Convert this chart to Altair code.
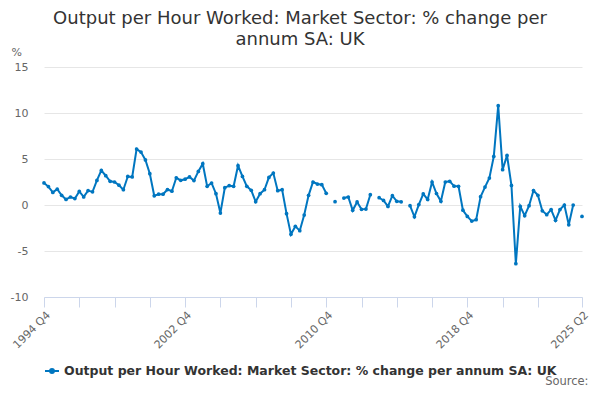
import json
import altair as alt
import pandas as pd

start_year = 1994
start_q = 4
values = [
    2.4, 2.0, 1.37, 1.72, 1.05, 0.6, 0.87, 0.7, 1.48, 0.88,
    1.57, 1.43, 2.67, 3.76, 3.18, 2.57, 2.5, 2.15, 1.66, 3.1,
    3.05, 6.08, 5.75, 4.9, 3.4, 1.0, 1.18, 1.17, 1.68, 1.5,
    2.96, 2.68, 2.8, 3.05, 2.65, 3.65, 4.49, 2.03, 2.39, 1.23,
    -0.87, 1.88, 2.1, 2.03, 4.27, 3.11, 2.03, 1.59, 0.36, 1.23,
    1.66, 3.0, 3.47, 1.55, 1.66, -0.94, -3.19, -2.32, -2.79, -1.09,
    1.05, 2.5, 2.28, 2.21, 1.27, None, 0.36, None, 0.76, 0.87,
    -0.58, 0.33, -0.47, -0.44, 1.12, None, 0.79, 0.5, -0.15, 1.01,
    0.4, 0.35, None, -0.08, -1.28, 0.05, 1.2, 0.6, 2.5, 1.25,
    0.4, 2.5, 2.57, 2.05, 2.03, -0.57, -1.24, -1.75, -1.6, 0.9,
    1.95, 2.93, 5.28, 10.8, 3.84, 5.39, 2.13, -6.38, -0.15, -1.16,
    -0.08, 1.57, 1.05, -0.63, -1.05, -0.5, -1.67, -0.5, 0.0, -2.15,
    0.0, None, -1.24,
]

quarters = []
for k in range(len(values)):
    n = (start_q - 1) + k
    quarters.append(f"{start_year + n // 4} Q{n % 4 + 1}")

label_quarters = ["1994 Q4", "2002 Q4", "2010 Q4", "2018 Q4", "2025 Q2"]
tick_quarters = quarters[0:113:8] + ["2025 Q2"]
y_ticks = [-10, -5, 0, 5, 10, 15]
series_name = "Output per Hour Worked: Market Sector: % change per annum SA: UK"
title_lines = ["Output per Hour Worked: Market Sector: % change per", "annum SA: UK"]

df = pd.DataFrame({"quarter": quarters, "value": values, "series": series_name})

blue = "#0076c0"
label_expr = "indexof(" + json.dumps(label_quarters) + ", datum.value) >= 0 ? datum.value : ''"

x_enc = alt.X(
    "quarter:O",
    sort=quarters,
    scale=alt.Scale(type="point", padding=0),
    axis=alt.Axis(
        values=tick_quarters,
        labelExpr=label_expr,
        labelAngle=-45,
        labelAlign="right",
        labelBaseline="top",
        labelPadding=2,
        labelFontSize=11,
        labelColor="#666666",
        tickSize=10,
        tickColor="#ccd6eb",
        domainColor="#ccd6eb",
        grid=False,
        title="Source:",
        titleFontSize=11.5,
        titleFontWeight="normal",
        titleColor="#666666",
        titleAlign="right",
        titleBaseline="alphabetic",
        titleX=544,
        titleY=87,
    ),
)
y_enc = alt.Y(
    "value:Q",
    scale=alt.Scale(domain=[-10, 15], nice=False, zero=False),
    axis=alt.Axis(
        values=y_ticks,
        labelExpr="'' + datum.value",
        grid=True,
        gridColor="#e6e6e6",
        domain=False,
        ticks=False,
        labelPadding=16,
        labelFontSize=11,
        labelColor="#666666",
        title="%",
        titleAngle=0,
        titleAlign="left",
        titleBaseline="middle",
        titleX=-33,
        titleY=-15,
        titleFontSize=11,
        titleFontWeight="normal",
        titleColor="#666666",
    ),
)

color_enc = alt.Color(
    "series:N",
    scale=alt.Scale(range=[blue]),
    legend=alt.Legend(
        title=None,
        orient="none",
        legendX=0,
        legendY=296,
        padding=0,
        symbolType="M-1,0L1,0M-0.28,0A0.28,0.28,0,1,1,0.28,0A0.28,0.28,0,1,1,-0.28,0Z",
        symbolSize=196,
        symbolStrokeWidth=2,
        symbolFillColor=blue,
        symbolStrokeColor=blue,
        labelFontSize=12.5,
        labelFontWeight="bold",
        labelColor="#333333",
        labelLimit=700,
        labelOffset=4,
    ),
)

line = alt.Chart(df).mark_line(strokeWidth=2).encode(x=x_enc, y=y_enc, color=color_enc)
points = alt.Chart(df).mark_point(filled=True, size=14, opacity=1).encode(
    x=x_enc, y=y_enc, color=alt.Color("series:N", scale=alt.Scale(range=[blue]), legend=None)
)

chart = (
    alt.layer(line, points)
    .properties(
        width=538,
        height=230,
        autosize=alt.AutoSizeParams(type="none"),
        padding={"left": 36, "top": 59, "right": 8, "bottom": 91},
        title=alt.TitleParams(
            text=title_lines,
            fontSize=18,
            fontWeight="normal",
            color="#333333",
            anchor="middle",
            dx=-13,
            offset=-3,
            lineHeight=21,
        ),
    )
    .configure(font="DejaVu Sans")
    .configure_view(stroke=None)
)

chart.save("out.html", embed_options={"renderer": "svg", "actions": False})
